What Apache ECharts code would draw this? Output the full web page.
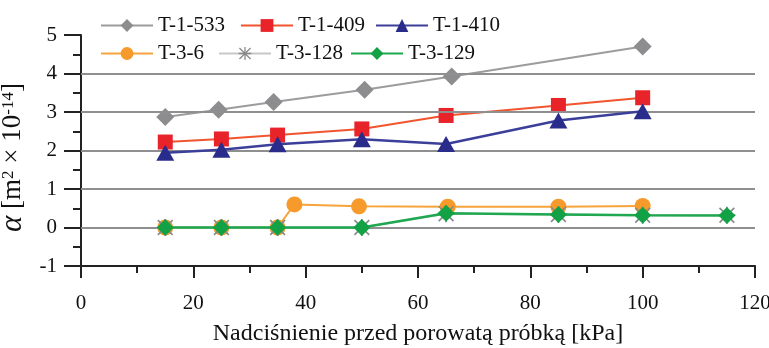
<!DOCTYPE html>
<html>
<head>
<meta charset="utf-8">
<script src="https://cdn.jsdelivr.net/npm/echarts@6/dist/echarts.min.js"></script>
<style>html,body{margin:0;padding:0;background:#fff}#c{width:769px;height:348px}</style>
</head>
<body>
<div id="c"></div>
<script>
// ---- data ----
const seriesNames = ['T-1-533', 'T-1-409', 'T-1-410', 'T-3-6', 'T-3-128', 'T-3-129'];
const x_T1_533 = [15, 24.5, 34.3, 50.5, 66, 100];
const y_T1_533 = [2.87, 3.06, 3.26, 3.58, 3.92, 4.7];
const x_T1_409 = [15, 25, 35, 50, 65, 85, 100];
const y_T1_409 = [2.22, 2.3, 2.4, 2.56, 2.91, 3.17, 3.37];
const x_T1_410 = [15, 25, 35, 50, 65, 85, 100];
const y_T1_410 = [1.94, 2.02, 2.16, 2.29, 2.17, 2.78, 3.02];
const x_T3_6 = [15, 25, 35, 38, 49.5, 65.3, 85, 100];
const y_T3_6 = [0, 0, 0, 0.6, 0.55, 0.54, 0.54, 0.56];
const x_T3_128 = [15, 25, 35, 50, 65, 85, 100, 115];
const y_T3_128 = [0, 0, 0, 0, 0.36, 0.34, 0.32, 0.32];
const x_T3_129 = [15, 25, 35, 50, 65, 85, 100, 115];
const y_T3_129 = [0, 0, 0, 0, 0.37, 0.34, 0.32, 0.31];
const gridLineValues = [0, 1, 2, 3, 4];
const xTitle = 'Nadciśnienie przed porowatą próbką [kPa]';

const zip = (xs, ys) => xs.map((x, i) => [x, ys[i]]);
const FONT = 'Liberation Serif';
const asterisk = 'path://M9 0L11 0L11 20L9 20Z M0 9L20 9L20 11L0 11Z M2 0.6L19.4 18L18 19.4L0.6 2Z M18 0.6L19.4 2L2 19.4L0.6 18Z';

function mk(name, data, lineColor, symbol, size, fill, lw, z) {
  return {
    name, type: 'line', data, z,
    symbol, symbolSize: size, showSymbol: true, showAllSymbol: true,
    lineStyle: { color: lineColor, width: lw || 2 },
    itemStyle: { color: fill, borderWidth: 0 },
    emphasis: { disabled: true },
    animation: false
  };
}

// legend item placement (icon left edge, row top)
const legendLeft = [95, 235, 370, 95, 213, 345];
const legendTop = [10, 10, 10, 38, 38, 38];

const chart = echarts.init(document.getElementById('c'), null, { renderer: 'canvas' });
chart.setOption({
  animation: false,
  backgroundColor: '#fff',
  legend: seriesNames.map((n, i) => ({
    left: legendLeft[i], top: legendTop[i], data: [n],
    itemWidth: 52, itemHeight: 16,
    textStyle: { fontFamily: FONT, fontSize: 21, color: '#111' },
    selectedMode: false
  })),
  grid: { left: 81, right: 14, top: 35, bottom: 82, outerBoundsMode: 'none', containLabel: false },
  xAxis: {
    type: 'value', min: 0, max: 120, interval: 20,
    name: xTitle, nameLocation: 'middle', nameGap: 56,
    nameTextStyle: { fontFamily: FONT, fontSize: 24, color: '#111' },
    axisLine: { onZero: false, lineStyle: { color: '#222', width: 2 } },
    axisTick: { show: true, length: 12, lineStyle: { color: '#222', width: 2 } },
    minorTick: { show: true, splitNumber: 2, length: 7, lineStyle: { color: '#222', width: 2 } },
    axisLabel: { fontFamily: FONT, fontSize: 21, color: '#111', margin: 27 },
    splitLine: { show: false }
  },
  yAxis: {
    type: 'value', min: -1, max: 5, interval: 1,
    name: '{a|α} [m{s|2} × 10{s|-14}]', nameLocation: 'middle', nameGap: 46, nameRotate: 90,
    nameTextStyle: {
      fontFamily: FONT, fontSize: 27, color: '#111', padding: [0, 14, 0, 0],
      rich: {
        a: { fontFamily: FONT, fontSize: 31, fontStyle: 'italic', color: '#111' },
        s: { fontFamily: FONT, fontSize: 17, color: '#111', verticalAlign: 'bottom', padding: [0, 0, 12, 0] }
      }
    },
    axisLine: { show: true, onZero: false, lineStyle: { color: '#222', width: 2 } },
    axisTick: { show: true, length: 17, lineStyle: { color: '#222', width: 2 } },
    minorTick: { show: true, splitNumber: 2, length: 8, lineStyle: { color: '#222', width: 2 } },
    axisLabel: { fontFamily: FONT, fontSize: 21, color: '#111', margin: 24 },
    splitLine: { show: false }
  },
  series: [
    {
      name: 'grid', type: 'line', data: [], z: 1, silent: true,
      markLine: {
        silent: true, symbol: 'none', label: { show: false }, animation: false,
        lineStyle: { color: '#8f8f8f', width: 2, type: 'solid' },
        emphasis: { disabled: true },
        data: gridLineValues.map(v => ({ yAxis: v }))
      }
    },
    mk('T-1-533', zip(x_T1_533, y_T1_533), '#9c9c9e', 'diamond', [18, 18], '#8d8d90', 2, 3),
    mk('T-1-409', zip(x_T1_409, y_T1_409), '#f0552e', 'rect', [15, 15], '#e8232a', 2, 4),
    mk('T-1-410', zip(x_T1_410, y_T1_410), '#3c3f9a', 'triangle', [18, 16], '#2a2c8c', 2.5, 5),
    mk('T-3-6', zip(x_T3_6, y_T3_6), '#f7a43a', 'circle', [16, 16], '#f59a2b', 2, 6),
    mk('T-3-128', zip(x_T3_128, y_T3_128), '#c8c8c8', asterisk, [17, 17], '#8a8a8a', 2, 7),
    mk('T-3-129', zip(x_T3_129, y_T3_129), '#1ea84f', 'diamond', [17, 17], '#12a145', 2.5, 8)
  ]
});
</script>
</body>
</html>
